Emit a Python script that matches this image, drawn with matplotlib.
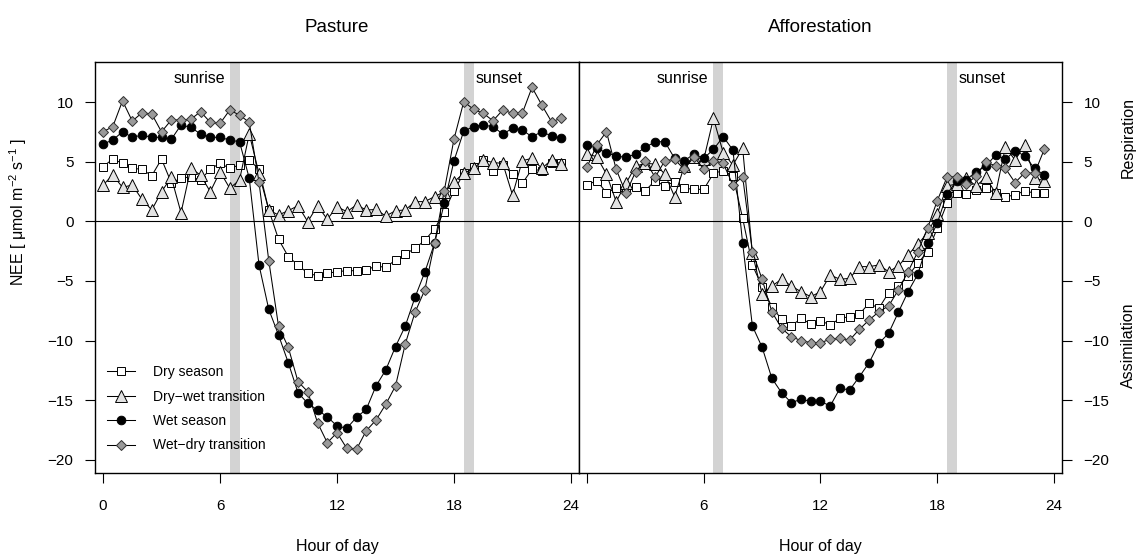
import numpy as np
import matplotlib
matplotlib.use('Agg')
import matplotlib.pyplot as plt

plt.rcParams['font.family'] = ['Liberation Sans', 'DejaVu Sans']
plt.rcParams['mathtext.fontset'] = 'custom'
plt.rcParams['mathtext.rm'] = 'Liberation Sans'
plt.rcParams['mathtext.it'] = 'Liberation Sans:italic'

# half-hourly mean diurnal NEE
hours = np.arange(0, 24, 0.5)

past_dry = [
    4.58, 5.22, 4.86, 4.44, 4.36, 3.82, 5.22, 3.24,
    3.60, 3.74, 3.46, 4.38, 4.86, 4.44, 4.72, 5.14,
    4.36, 0.95, -1.50, -2.96, -3.66, -4.36, -4.56, -4.36,
    -4.22, -4.14, -4.14, -4.08, -3.75, -3.86, -3.24, -2.74,
    -2.27, -1.60, -0.65, 0.81, 2.57, 4.02, 4.53, 5.14,
    4.25, 4.72, 3.96, 3.18, 4.36, 4.25, 4.86, 4.92]
past_drywet = [
    3.04, 3.88, 2.85, 3.04, 1.84, 0.95, 2.48, 3.69,
    0.72, 4.44, 3.88, 2.48, 4.16, 2.77, 3.46, 7.32,
    4.00, 0.95, 0.53, 0.89, 1.31, -0.03, 1.31, 0.17,
    1.23, 0.81, 1.37, 0.95, 0.99, 0.44, 0.89, 0.95,
    1.65, 1.65, 2.07, 2.48, 3.32, 4.02, 4.44, 5.14,
    4.92, 4.86, 2.20, 5.08, 5.28, 4.44, 5.14, 4.80]
past_wet = [
    6.48, 6.81, 7.51, 7.04, 7.23, 7.04, 7.04, 6.87,
    8.07, 7.88, 7.32, 7.04, 7.04, 6.81, 6.67, 3.60,
    -3.66, -7.38, -9.53, -11.85, -14.37, -15.26, -15.82, -16.38,
    -17.16, -17.35, -16.43, -15.76, -13.80, -12.46, -10.50, -8.78,
    -6.37, -4.27, -1.85, 1.50, 5.08, 7.57, 7.93, 8.07,
    7.93, 7.32, 7.79, 7.65, 7.09, 7.51, 7.15, 6.96]
past_wetdry = [
    7.51, 7.93, 10.10, 8.40, 9.10, 9.00, 7.50, 8.49,
    8.50, 8.55, 9.19, 8.30, 8.20, 9.33, 8.90, 8.30,
    3.27, -3.30, -8.78, -10.56, -13.44, -14.28, -16.88, -18.56,
    -17.72, -19.03, -19.11, -17.55, -16.66, -15.34, -13.80, -10.28,
    -7.63, -5.76, -1.85, 2.57, 6.90, 10.03, 9.39, 9.05,
    8.43, 9.33, 9.05, 9.05, 11.23, 9.75, 8.35, 8.63]

aff_dry = [
    3.04, 3.41, 2.40, 2.77, 2.77, 2.90, 2.57, 3.41,
    2.96, 3.32, 2.77, 2.68, 2.68, 4.02, 4.25, 3.80,
    0.25, -3.66, -5.48, -7.16, -8.22, -8.78, -8.13, -8.61,
    -8.33, -8.69, -8.13, -8.00, -7.77, -6.87, -7.29, -5.98,
    -5.42, -4.58, -3.52, -2.55, -0.59, 1.50, 2.40, 2.29,
    2.62, 2.77, 2.35, 2.07, 2.20, 2.57, 2.35, 2.40]
aff_drywet = [
    5.64, 5.42, 3.96, 1.65, 3.18, 4.63, 4.86, 4.80,
    3.96, 2.07, 4.63, 5.42, 5.19, 8.63, 5.75, 4.72,
    6.12, -2.68, -6.09, -5.42, -4.86, -5.42, -5.90, -6.32,
    -5.90, -4.50, -4.86, -4.78, -3.80, -3.80, -3.66, -4.22,
    -3.75, -2.82, -1.90, -1.00, 0.61, 2.96, 3.13, 3.60,
    2.96, 3.69, 2.35, 6.20, 5.14, 6.40, 3.60, 3.41]
aff_wet = [
    6.40, 6.12, 5.75, 5.47, 5.36, 5.64, 6.20, 6.67,
    6.67, 5.28, 5.08, 5.64, 5.28, 6.03, 7.09, 5.98,
    -1.85, -8.78, -10.56, -13.16, -14.37, -15.20, -14.92, -15.09,
    -15.09, -15.48, -14.00, -14.14, -13.02, -11.85, -10.23, -9.39,
    -7.63, -5.90, -4.44, -1.85, -0.17, 2.29, 3.40, 3.50,
    4.16, 4.63, 5.56, 5.19, 5.92, 5.47, 4.44, 3.88]
aff_wetdry = [
    4.53, 6.40, 7.51, 4.36, 2.35, 4.16, 5.08, 3.69,
    5.08, 5.19, 4.36, 5.42, 4.36, 5.08, 4.86, 3.04,
    3.74, -2.55, -4.86, -7.58, -8.97, -9.67, -10.00, -10.17,
    -10.17, -9.89, -9.81, -9.95, -9.05, -8.27, -7.58, -7.10,
    -5.76, -4.22, -2.55, -0.59, 1.73, 3.69, 3.74, 3.13,
    3.80, 5.00, 4.63, 4.44, 3.24, 4.08, 4.02, 6.03]

season_names = ['Dry season', 'Dry\u2212wet transition', 'Wet season', 'Wet\u2212dry transition']
sunrise_band = (6.5, 7.0)
sunset_band = (18.5, 19.0)
xticks = [0, 6, 12, 18, 24]
yticks = [-20, -15, -10, -5, 0, 5, 10]

styles = [
    dict(marker='s', ms=5.8, mfc='white', mec='black'),
    dict(marker='^', ms=8.0, mfc='#e3e3e3', mec='black'),
    dict(marker='o', ms=6.2, mfc='black', mec='black'),
    dict(marker='D', ms=5.3, mfc='#9a9a9a', mec='#303030'),
]

fig = plt.figure(figsize=(11.38, 5.55), dpi=100)
ax1 = fig.add_axes([0.0835, 0.1477, 0.4253, 0.7405])
ax2 = fig.add_axes([0.5088, 0.1477, 0.4244, 0.7405])


def draw_panel(ax, series):
    ax.axvspan(sunrise_band[0], sunrise_band[1], color='#d3d3d3', lw=0, zorder=0)
    ax.axvspan(sunset_band[0], sunset_band[1], color='#d3d3d3', lw=0, zorder=0)
    ax.axhline(0, color='black', lw=0.8, zorder=1)
    for vals, name, st in zip(series, season_names, styles):
        ax.plot(hours, vals, color='black', lw=0.75, mew=0.7, label=name, zorder=3, **st)
    ax.text(sunrise_band[0] - 0.25, 12.0, 'sunrise', ha='right', va='center', fontsize=11.5)
    ax.text(sunset_band[1] + 0.12, 12.0, 'sunset', ha='left', va='center', fontsize=11.5)
    ax.set_xlim(-0.41, 24.41)
    ax.set_ylim(-21.1, 13.35)
    ax.set_xticks(xticks)
    ax.set_yticks(yticks)
    ax.tick_params(direction='out', length=7.5, width=0.8, labelsize=11, pad=11)
    for sp in ax.spines.values():
        sp.set_linewidth(1.0)


draw_panel(ax1, [past_dry, past_drywet, past_wet, past_wetdry])
draw_panel(ax2, [aff_dry, aff_drywet, aff_wet, aff_wetdry])

ax1.set_xticklabels(['0', '6', '12', '18', '24'])
ax1.set_yticklabels(['\u221220', '\u221215', '\u221210', '\u22125', '0', '5', '10'])
ax1.tick_params(axis='y', pad=8)

ax2.set_xticklabels(['', '6', '12', '18', '24'])
ax2.yaxis.tick_right()
ax2.set_yticklabels(['\u221220', '\u221215', '\u221210', '\u22125', '0', '5', '10'])
ax2.tick_params(axis='y', pad=8)

leg = ax1.legend(loc='lower left', bbox_to_anchor=(0.025, 0.05), frameon=False,
                 fontsize=10, handlelength=2.0, handletextpad=1.3,
                 labelspacing=0.75, borderpad=0, borderaxespad=0, numpoints=1)

# panel titles and axis labels
fig.text(337 / 1138, 1 - 28 / 555, 'Pasture', ha='center', va='center', fontsize=13.5)
fig.text(820 / 1138, 1 - 28 / 555, 'Afforestation', ha='center', va='center', fontsize=13.5)
fig.text(337 / 1138, 1 - 546 / 555, 'Hour of day', ha='center', va='center', fontsize=11.5)
fig.text(820 / 1138, 1 - 546 / 555, 'Hour of day', ha='center', va='center', fontsize=11.5)
fig.text(18 / 1138, 1 - 212 / 555, 'NEE [ \u03bcmol m$^{-2}$ s$^{-1}$ ]',
         rotation=90, ha='center', va='center', fontsize=11.5)
fig.text(1128 / 1138, 1 - 138 / 555, 'Respiration', rotation=90, ha='center', va='center', fontsize=11.5)
fig.text(1128 / 1138, 1 - 345 / 555, 'Assimilation', rotation=90, ha='center', va='center', fontsize=11.5)

fig.savefig('out.png', dpi=100)
